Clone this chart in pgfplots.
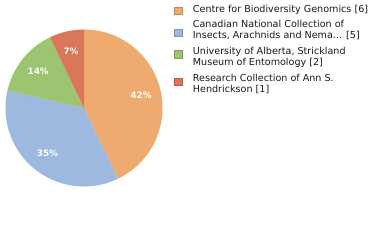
\documentclass[border=0pt]{standalone}
\usepackage{pgfplots}
\usepackage{pgfplotstable}
\pgfplotsset{compat=1.18}
\usepackage{fontspec}
\setmainfont{DejaVu Sans}
\definecolor{cA}{RGB}{239,171,111}
\definecolor{cB}{RGB}{157,185,223}
\definecolor{cC}{RGB}{157,196,112}
\definecolor{cD}{RGB}{218,119,91}
\pgfplotstableread{
idx value
0 6
1 5
2 2
3 1
}\piedata
\begin{document}
\begin{tikzpicture}
\pgfplotstablegetelem{0}{value}\of\piedata \edef\va{\pgfplotsretval}
\pgfplotstablegetelem{1}{value}\of\piedata \edef\vb{\pgfplotsretval}
\pgfplotstablegetelem{2}{value}\of\piedata \edef\vc{\pgfplotsretval}
\pgfplotstablegetelem{3}{value}\of\piedata \edef\vd{\pgfplotsretval}
\pgfmathsetmacro\tot{\va+\vb+\vc+\vd}
\pgfmathsetmacro\aA{90}
\pgfmathsetmacro\aB{\aA-360*\va/\tot}
\pgfmathsetmacro\aC{\aB-360*\vb/\tot}
\pgfmathsetmacro\aD{\aC-360*\vc/\tot}
\pgfmathsetmacro\aE{\aD-360*\vd/\tot}
\pgfmathsetmacro\mA{(\aA+\aB)/2}
\pgfmathsetmacro\mB{(\aB+\aC)/2}
\pgfmathsetmacro\mC{(\aC+\aD)/2}
\pgfmathsetmacro\mD{(\aD+\aE)/2}
\pgfmathtruncatemacro\pA{100*\va/\tot}
\pgfmathtruncatemacro\pB{100*\vb/\tot}
\pgfmathtruncatemacro\pC{100*\vc/\tot}
\pgfmathtruncatemacro\pD{100*\vd/\tot}
\useasboundingbox (0,0) rectangle (380pt,240pt);
\begin{axis}[
  x=1pt, y=1pt, xmin=0, xmax=380, ymin=0, ymax=240,
  at={(0,0)}, anchor=south west, scale only axis,
  hide axis, clip=false,
]
\fill[cA] (axis cs:84,132) -- ([shift={(\aA:78.5pt)}]axis cs:84,132) arc[start angle=\aA, end angle=\aB, radius=78.5pt] -- cycle;
\fill[cB] (axis cs:84,132) -- ([shift={(\aB:78.5pt)}]axis cs:84,132) arc[start angle=\aB, end angle=\aC, radius=78.5pt] -- cycle;
\fill[cC] (axis cs:84,132) -- ([shift={(\aC:78.5pt)}]axis cs:84,132) arc[start angle=\aC, end angle=\aD, radius=78.5pt] -- cycle;
\fill[cD] (axis cs:84,132) -- ([shift={(\aD:78.5pt)}]axis cs:84,132) arc[start angle=\aD, end angle=\aE, radius=78.5pt] -- cycle;
\path[font=\fontsize{8.8}{11}\bfseries, text=white]
  ([shift={(\mA:58.5pt)}]axis cs:84,132) node {\pA\%}
  ([shift={(\mB:58.5pt)}]axis cs:84,132) node {\pB\%}
  ([shift={(\mC:58.5pt)}]axis cs:84,132) node {\pC\%}
  ([shift={(\mD:58.5pt)}]axis cs:84,132) node {\pD\%};
% legend
\filldraw[fill=cA, draw=cA!80!black, line width=0.4pt] (axis cs:174.3,225.5) rectangle (axis cs:182.3,233);
\filldraw[fill=cB, draw=cB!80!black, line width=0.4pt] (axis cs:174.3,203.5) rectangle (axis cs:182.3,211);
\filldraw[fill=cC, draw=cC!80!black, line width=0.4pt] (axis cs:174.3,182) rectangle (axis cs:182.3,189.5);
\filldraw[fill=cD, draw=cD!80!black, line width=0.4pt] (axis cs:174.3,154.5) rectangle (axis cs:182.3,162);
\path[font=\fontsize{9.6}{11}\selectfont, text=black!90, inner sep=0pt]
  (axis cs:192.7,227) node[anchor=base west] {Centre for Biodiversity Genomics [6]}
  (axis cs:192.7,212.7) node[anchor=base west] {Canadian National Collection of}
  (axis cs:192.7,201.7) node[anchor=base west] {Insects, Arachnids and Nema... [5]}
  (axis cs:192.7,185.3) node[anchor=base west] {University of Alberta, Strickland}
  (axis cs:192.7,174.7) node[anchor=base west] {Museum of Entomology [2]}
  (axis cs:192.7,158) node[anchor=base west] {Research Collection of Ann S.}
  (axis cs:192.7,147) node[anchor=base west] {Hendrickson [1]};
\end{axis}
\end{tikzpicture}
\end{document}
